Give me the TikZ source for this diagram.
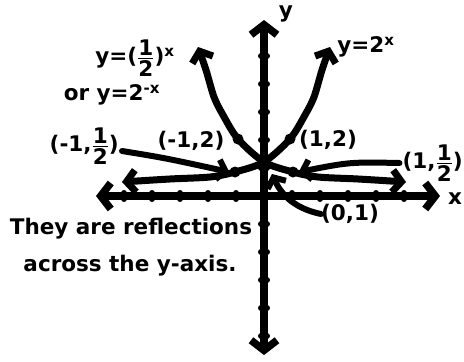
\documentclass[tikz,border=0pt]{standalone}
\usepackage{amsmath}
\usepackage{fontspec}
\setmainfont{DejaVu Sans}
\usetikzlibrary{arrows.meta}
\newcommand{\hf}[2]{$\genfrac{}{}{1pt}{}{\hbox{#1}}{\hbox{#2}}$}
\begin{document}
\begin{tikzpicture}[x=1pt,y=-1pt,line cap=round,line join=round,
  lbl/.style={font=\fontsize{21.5}{23}\selectfont\bfseries,inner sep=0pt},
  axis/.style={line width=7.5pt,{Straight Barb[length=10pt,width=26pt]}-{Straight Barb[length=10pt,width=26pt]}},
  tick/.style={line width=6pt},
  curve/.style={line width=7pt,{Straight Barb[length=9pt,width=22pt]}-{Straight Barb[length=9pt,width=22pt]}},
  ann/.style={line width=6pt,-{Straight Barb[length=8pt,width=20pt]}},
  dot/.style={circle,fill=black,inner sep=0pt,minimum size=11pt}]
\useasboundingbox (0,0) rectangle (464,362);
% axes
\coordinate (xl) at (96,196); \coordinate (xr) at (440,196);
\coordinate (yt) at (264,20); \coordinate (yb) at (264,355);
\draw[axis] (xl) -- (xr);
\draw[axis] (yb) -- (yt);
\foreach \k in {1,...,5}{
  \draw[tick] (264+28*\k,193) -- (264+28*\k,199);
  \draw[tick] (264-28*\k,193) -- (264-28*\k,199);
  \draw[tick] (261,196-28*\k) -- (267,196-28*\k);
  \draw[tick] (261,196+28*\k) -- (267,196+28*\k);
}
\node[lbl] (xlab) at (455,199) {x};
\node[lbl] (ylab) at (286,14) {y};
% curves
\draw[curve] plot[smooth] coordinates {(122,182) (170,179) (210,177) (235,172) (264,162) (290,139) (305,115) (314,97) (322,70) (330,47)};
\draw[curve] plot[smooth] coordinates {(406,182) (358,179) (318,177) (293,172) (264,162) (238,139) (223,115) (214,97) (206,70) (198,47)};
\node[dot] (pa) at (235,172) {};
\node[dot] (pb) at (293,172) {};
\node[dot] (pc) at (238,139) {};
\node[dot] (pd) at (290,139) {};
\coordinate (p0) at (272,174);
% labels
\node[lbl] (f1) at (135,58) {y=(\hf{1}{2})\textsuperscript{x}};
\node[lbl] (f1b) at (112,95) {or y=2\textsuperscript{-x}};
\node[lbl] (f2) at (366,47) {y=2\textsuperscript{x}};
\node[lbl,anchor=east] (l1) at (119,146) {(-1,\hf{1}{2})};
\node[lbl] (l2) at (191,141) {(-1,2)};
\node[lbl] (l3) at (328,140) {(1,2)};
\node[lbl,anchor=east] (l4) at (463,163) {(1,\hf{1}{2})};
\node[lbl] (l5) at (350,214) {(0,1)};
\node[lbl] (t1) at (131,229) {They are reflections};
\node[lbl] (t2) at (130,266) {across the y-axis.};
% annotation arrows
\draw[ann] ([yshift=-5pt,xshift=3pt]l1.east) .. controls (165,158) .. (pa.west);
\draw[ann] ([xshift=-3pt]l4.west) .. controls (350,162) .. (pb.east);
\draw[ann] (l5.west) .. controls (292,208) and (280,192) .. (p0);
\end{tikzpicture}
\end{document}
